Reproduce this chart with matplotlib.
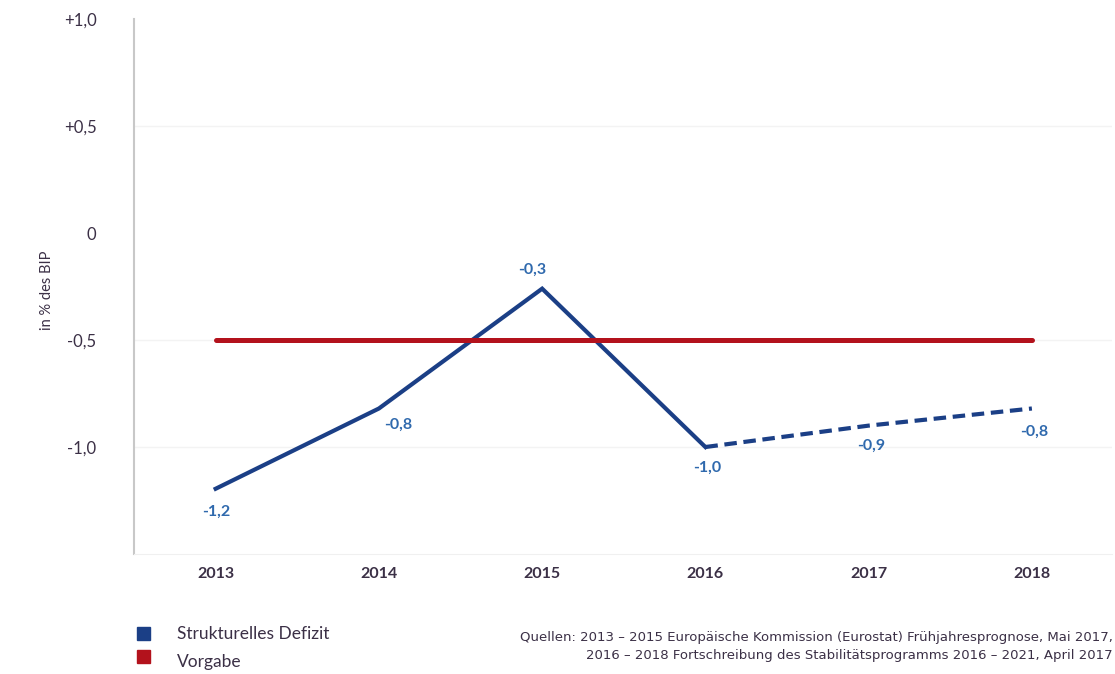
import matplotlib.pyplot as plt
from matplotlib.patches import Rectangle

years = [2013, 2014, 2015, 2016, 2017, 2018]
defizit = [-1.195, -0.82, -0.26, -1.0, -0.90, -0.82]
defizit_labels = ["-1,2", "-0,8", "-0,3", "-1,0", "-0,9", "-0,8"]
vorgabe = [-0.50, -0.50, -0.50, -0.50, -0.50, -0.50]
yticks = [1.0, 0.5, 0.0, -0.5, -1.0]
ytick_labels = ["+1,0", "+0,5", "0", "-0,5", "-1,0"]

blue = "#1b3f86"
label_blue = "#2f69ad"
red = "#b3121c"
text_col = "#3b3046"

plt.rcParams["font.family"] = ["Lato", "DejaVu Sans"]

fig = plt.figure(figsize=(11.15, 6.74), dpi=100)
ax = fig.add_axes([0.1202, 0.178, 0.877, 0.7938])

# reported years solid, projection dashed
ax.plot(years[:4], defizit[:4], color=blue, lw=3.0, solid_joinstyle="miter")
ax.plot(years[3:], defizit[3:], color=blue, lw=3.0, ls=(0, (3, 1.6)),
        dash_capstyle="butt")
ax.plot(years, vorgabe, color=red, lw=3.6, solid_capstyle="round")

# value labels (offsets in points)
offsets = [(0.5, -16.5), (14, -12), (-7, 13.5), (1.4, -15), (2, -14.5), (1.4, -16.5)]
for x, y, s, (dx, dy) in zip(years, defizit, defizit_labels, offsets):
    ax.annotate(s, (x, y), xytext=(dx, dy), textcoords="offset points",
                ha="center", va="center", color=label_blue, fontsize=11.5,
                fontweight="bold")

ax.set_xlim(2012.5, 2018.49)
ax.set_ylim(-1.5, 1.0)
ax.set_xticks(years)
ax.set_xticklabels([str(y) for y in years], fontweight="bold")
ax.set_yticks(yticks)
ax.set_yticklabels(ytick_labels)
ax.tick_params(axis="x", length=0, pad=9.5, labelsize=11.5, labelcolor=text_col)
ax.tick_params(axis="y", length=0, pad=27, labelsize=12, labelcolor=text_col)

for y in [0.5, -0.5, -1.0]:
    ax.axhline(y, color="#f3f3f3", lw=1, zorder=0)

for side in ["top", "right"]:
    ax.spines[side].set_visible(False)
ax.spines["bottom"].set_color("#f0f0f0")
ax.spines["left"].set_color("#c8c8c8")
ax.spines["left"].set_linewidth(1.5)

fig.text(0.042, 0.57, "in % des BIP", rotation=90, ha="center", va="center",
         fontsize=10.5, color=text_col)

# legend
fig.patches.append(Rectangle((0.123, 0.05), 0.0117, 0.02, transform=fig.transFigure,
                             color=blue, figure=fig))
fig.patches.append(Rectangle((0.123, 0.016), 0.0117, 0.02, transform=fig.transFigure,
                             color=red, figure=fig))
fig.text(0.159, 0.059, "Strukturelles Defizit", ha="left", va="center",
         fontsize=12.5, color=text_col)
fig.text(0.159, 0.018, "Vorgabe", ha="left", va="center",
         fontsize=12.5, color=text_col)

fig.text(0.998, 0.041,
         "Quellen: 2013 \u2013 2015 Europäische Kommission (Eurostat) Frühjahresprognose, Mai 2017,\n"
         "2016 \u2013 2018 Fortschreibung des Stabilitätsprogramms 2016 \u2013 2021, April 2017",
         ha="right", va="center", multialignment="right", fontsize=9.5,
         family=["Liberation Sans Narrow", "DejaVu Sans"], color=text_col,
         linespacing=1.55)

fig.savefig("out.png", dpi=100)
